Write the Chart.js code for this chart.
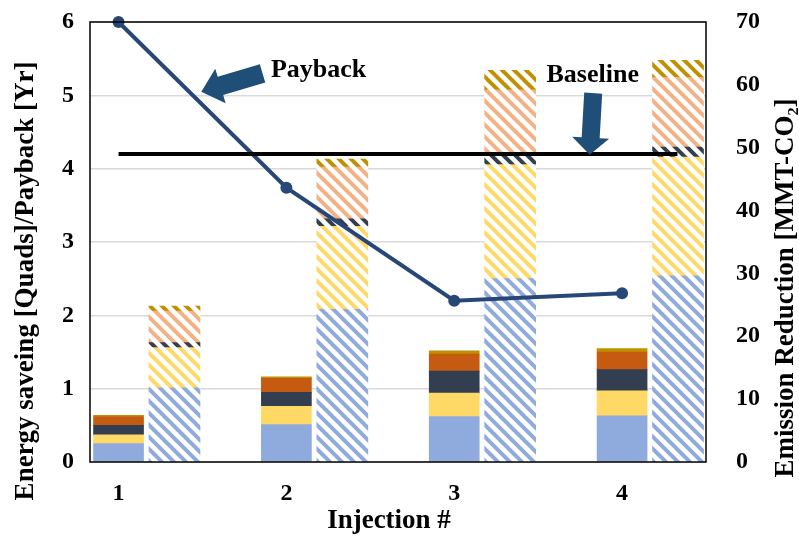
<!DOCTYPE html>
<html>
<head>
<meta charset="utf-8">
<script src="https://cdn.jsdelivr.net/npm/chart.js@4.4.1/dist/chart.umd.min.js"></script>
<style>
  html, body { margin: 0; padding: 0; background: #fff; }
  canvas { display: block; }
</style>
</head>
<body>
<canvas id="grafico" width="799" height="537"></canvas>
<script>
// ===== Datos =====
const categories = [1, 2, 3, 4];
const tickLabels = ['1', '2', '3', '4'];
const leftTicks = [0, 1, 2, 3, 4, 5, 6];
const rightTicks = [0, 10, 20, 30, 40, 50, 60, 70];

// energy saving [Quads] (barras solidas, de abajo hacia arriba)
const saveBlue = [0.25, 0.51, 0.62, 0.63];
const saveYellow = [0.12, 0.25, 0.32, 0.34];
const saveNavy = [0.13, 0.19, 0.30, 0.29];
const saveOrange = [0.12, 0.19, 0.23, 0.24];
const saveGold = [0.015, 0.02, 0.045, 0.045];

// emission reduction [MMT-CO2] (barras rayadas)
const emisBlue = [11.8, 24.3, 29.2, 29.6];
const emisYellow = [6.4, 13.2, 18.1, 18.9];
const emisNavy = [0.8, 1.2, 1.4, 1.6];
const emisSalmon = [5.0, 8.2, 10.5, 11.1];
const emisGold = [0.8, 1.3, 3.1, 2.7];

// payback [Yr]
const payback = [6.0, 3.74, 2.2, 2.3];

// baseline
const baselineValue = 4.2;
const baselineSpan = [1, 4.33];

// ===== Estilos =====
const FONT = "'Liberation Serif', 'Times New Roman', serif";
const colBlue = '#8faadc', colYellow = '#ffd966', colNavy = '#333f50',
      colOrange = '#c55a11', colGold = '#bf9000', colSalmon = '#f4b183';
const lineBlue = '#284779';
const arrowBlue = '#1f4e79';

function rayado(color) {
  const c = document.createElement('canvas');
  c.width = c.height = 12;
  const g = c.getContext('2d');
  g.fillStyle = '#fff';
  g.fillRect(0, 0, 12, 12);
  g.strokeStyle = color;
  g.lineWidth = 4;
  g.beginPath();
  for (const k of [-12, 0, 12]) {
    g.moveTo(k - 2, -2);
    g.lineTo(k + 14, 14);
  }
  g.stroke();
  return g.createPattern(c, 'repeat');
}

const pts = arr => arr.map((v, i) => ({ x: categories[i], y: v }));

function solida(data, color) {
  return { type: 'bar', data: pts(data), backgroundColor: color, borderWidth: 0, grouped: false,
    xAxisID: 'x', yAxisID: 'y', barThickness: 50, order: 2 };
}
function rayada(data, color) {
  return { type: 'bar', data: pts(data), backgroundColor: rayado(color), borderWidth: 0, grouped: false,
    xAxisID: 'x2', yAxisID: 'y2', barThickness: 51, order: 3 };
}

// ===== Anotaciones (en coordenadas de datos) =====
const notas = [
  { text: 'Payback', at: [2.192, 5.254], from: [1.858, 5.30], to: [1.493, 5.05], shaft: 19, head: 36, headLen: 20 },
  { text: 'Baseline', at: [3.825, 5.186], from: [3.828, 5.03], to: [3.807, 4.19], shaft: 18, head: 37, headLen: 17 }
];

function flecha(ctx, x0, y0, x1, y1, shaft, head, headLen) {
  const ang = Math.atan2(y1 - y0, x1 - x0);
  const len = Math.hypot(x1 - x0, y1 - y0);
  ctx.save();
  ctx.translate(x0, y0);
  ctx.rotate(ang);
  ctx.beginPath();
  ctx.moveTo(0, -shaft / 2);
  ctx.lineTo(len - headLen, -shaft / 2);
  ctx.lineTo(len - headLen, -head / 2);
  ctx.lineTo(len, 0);
  ctx.lineTo(len - headLen, head / 2);
  ctx.lineTo(len - headLen, shaft / 2);
  ctx.lineTo(0, shaft / 2);
  ctx.closePath();
  ctx.fillStyle = arrowBlue;
  ctx.fill();
  ctx.restore();
}

const decor = {
  id: 'decor',
  afterDatasetsDraw(chart) {
    const { ctx, chartArea: a, scales: { x, y } } = chart;
    ctx.save();
    ctx.strokeStyle = '#000';
    ctx.lineWidth = 1.5;
    ctx.strokeRect(a.left, a.top, a.right - a.left, a.bottom - a.top);

    notas.forEach(n => {
      flecha(ctx, x.getPixelForValue(n.from[0]), y.getPixelForValue(n.from[1]),
        x.getPixelForValue(n.to[0]), y.getPixelForValue(n.to[1]), n.shaft, n.head, n.headLen);
      ctx.fillStyle = '#000';
      ctx.font = `bold 26px ${FONT}`;
      ctx.textAlign = 'center';
      ctx.textBaseline = 'alphabetic';
      ctx.fillText(n.text, x.getPixelForValue(n.at[0]), y.getPixelForValue(n.at[1]));
    });
    ctx.restore();
  },
  afterDraw(chart) {
    const { ctx } = chart;
    ctx.save();
    ctx.fillStyle = '#000';
    ctx.font = `bold 27px ${FONT}`;
    ctx.textAlign = 'center';
    ctx.textBaseline = 'middle';
    // titulo eje x
    ctx.fillText('Injection #', 389, 521);
    // titulo eje izquierdo
    ctx.save();
    ctx.translate(26, 281);
    ctx.rotate(-Math.PI / 2);
    ctx.fillText('Energy saveing [Quads]/Payback [Yr]', 0, 0);
    ctx.restore();
    // titulo eje derecho
    ctx.save();
    ctx.translate(786, 288);
    ctx.rotate(-Math.PI / 2);
    ctx.fillText('Emission Reduction [MMT-CO\u2082]', 0, 0);
    ctx.restore();
    ctx.restore();
  }
};

// quitar el relleno que Chart.js reserva para medias etiquetas
function fijarAncho(w) {
  return s => { s.width = w; s.paddingTop = 0; s.paddingBottom = 0; };
}

// ===== Chart.js =====
const tickFont = { family: FONT, size: 24, weight: 'bold' };
const OFFSET = 1 / 3;

new Chart(document.getElementById('grafico').getContext('2d'), {
  type: 'bar',
  data: {
    datasets: [
      { type: 'line', stack: 'base', data: baselineSpan.map(v => ({ x: v, y: baselineValue })),
        borderColor: '#000', borderWidth: 4, pointRadius: 0, xAxisID: 'x', yAxisID: 'y', order: 0 },
      { type: 'line', stack: 'payback', data: pts(payback), borderColor: lineBlue, backgroundColor: lineBlue,
        borderWidth: 4, pointRadius: 6, pointBackgroundColor: lineBlue, pointBorderWidth: 0,
        xAxisID: 'x', yAxisID: 'y', order: 1, clip: 8 },
      solida(saveBlue, colBlue),
      solida(saveYellow, colYellow),
      solida(saveNavy, colNavy),
      solida(saveOrange, colOrange),
      solida(saveGold, colGold),
      rayada(emisBlue, colBlue),
      rayada(emisYellow, colYellow),
      rayada(emisNavy, colNavy),
      rayada(emisSalmon, colSalmon),
      rayada(emisGold, colGold)
    ]
  },
  options: {
    responsive: false,
    animation: false,
    layout: { padding: { top: 22, left: 0, right: 0, bottom: 0 } },
    plugins: { legend: { display: false }, tooltip: { enabled: false } },
    scales: {
      x: {
        type: 'linear', position: 'bottom', min: 0.83, max: 4.5, stacked: true, offset: false,
        afterBuildTicks: s => { s.ticks = categories.map(v => ({ value: v })); },
        afterFit: s => { s.height = 75; s.paddingLeft = 0; s.paddingRight = 0; },
        ticks: { font: tickFont, color: '#000', padding: 9, maxRotation: 0,
          callback: v => tickLabels[categories.indexOf(v)] },
        grid: { display: false, offset: false }, border: { display: false }
      },
      x2: {
        type: 'linear', display: false, min: 0.83 - OFFSET, max: 4.5 - OFFSET, stacked: true,
        offset: false, grid: { offset: false }
      },
      y: {
        position: 'left', min: 0, max: 6, stacked: true,
        afterBuildTicks: s => { s.ticks = leftTicks.map(v => ({ value: v })); },
        afterFit: fijarAncho(90),
        ticks: { font: tickFont, color: '#000', padding: 16 },
        grid: { color: '#d9d9d9', lineWidth: 1.5, drawTicks: false }, border: { display: false }
      },
      y2: {
        position: 'right', min: 0, max: 70, stacked: true,
        afterBuildTicks: s => { s.ticks = rightTicks.map(v => ({ value: v })); },
        afterFit: fijarAncho(93),
        ticks: { font: tickFont, color: '#000', padding: 30 },
        grid: { display: false, drawTicks: false }, border: { display: false }
      }
    }
  },
  plugins: [decor]
});
</script>
</body>
</html>
